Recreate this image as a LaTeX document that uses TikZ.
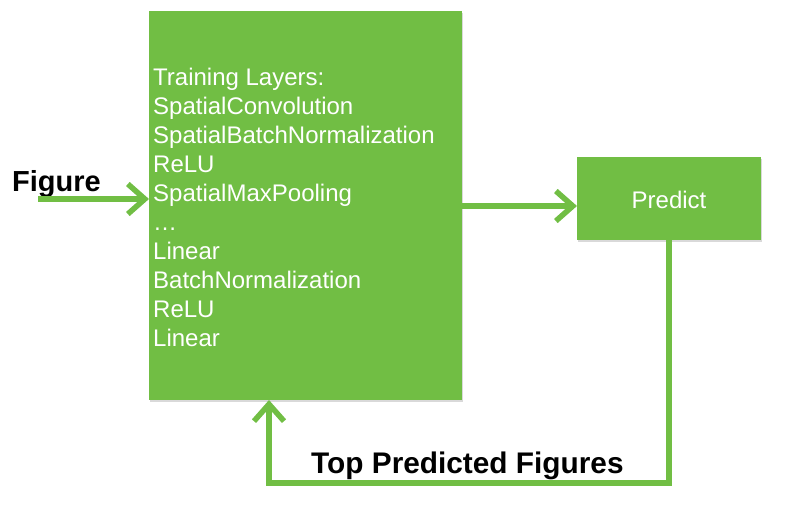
\documentclass[tikz,border=0pt]{standalone}
\usepackage{fontspec}
\setmainfont{Liberation Sans}
\usetikzlibrary{arrows.meta,shadows}
\definecolor{leaf}{RGB}{113,190,68}
\tikzset{
  box/.style={fill=leaf, draw=none, inner sep=0pt,
    drop shadow={opacity=0.3, shadow xshift=0.8pt, shadow yshift=-1.5pt}},
  flow/.style={draw=leaf, line width=5.5pt,
    -{Straight Barb[length=17pt,width=30pt,line join=miter,line cap=butt]}},
  lbl/.style={font=\fontsize{29}{34}\selectfont\bfseries, text=black, inner sep=0pt},
  inner/.style={font=\fontsize{24}{29}\selectfont, text=white, inner sep=0pt}
}
\begin{document}
\begin{tikzpicture}[x=1pt,y=-1pt]
\useasboundingbox (0,0) rectangle (787,512);
% boxes
\path[box] (149,11) rectangle (462,400);
\coordinate (bigW) at (149,199);
\coordinate (bigE) at (462,206);
\coordinate (bigS) at (269,400);
\node[box, minimum width=184pt, minimum height=83pt, anchor=north west] (pred) at (577,157) {};
\node[inner, anchor=center] (predtxt) at (669,200) {Predict};
% training text
\node[inner, anchor=north west, align=left] (layers) at (153,67.5) {Training Layers:\\
SpatialConvolution\\
SpatialBatchNormalization\\
ReLU\\
SpatialMaxPooling\\
…\\
Linear\\
BatchNormalization\\
ReLU\\
Linear};
% labels
\node[lbl, anchor=base west] (figlbl) at (12,191) {Figure};
\node[lbl, anchor=base west, font=\fontsize{29.8}{34}\selectfont\bfseries] (toplbl) at (311,473) {Top Predicted Figures};
% arrows
\coordinate (src) at (38,199);
\coordinate (c1) at (669,483);
\coordinate (c2) at (269,483);
\draw[flow] (src) -- (bigW);
\draw[flow] (bigE) -- (pred.west |- bigE);
\draw[flow] (pred.south -| c1) -- (c1) -- (c2) -- (bigS);
\end{tikzpicture}
\end{document}
